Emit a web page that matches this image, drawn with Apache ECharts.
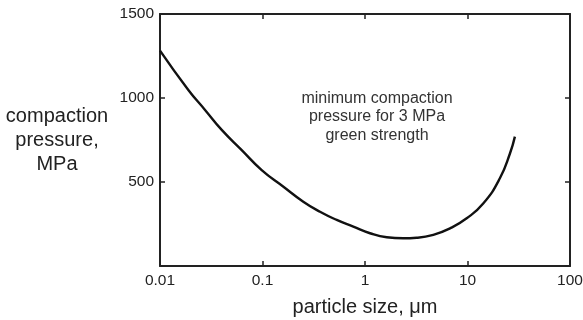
<!DOCTYPE html>
<html>
<head>
<meta charset="utf-8">
<script src="https://cdn.jsdelivr.net/npm/echarts@6/dist/echarts.min.js"></script>
<style>
  html, body { margin: 0; padding: 0; background: #fff; }
  #chart { width: 583px; height: 320px; }
</style>
</head>
<body>
<div id="chart"></div>
<script>
// 读图所得的曲线点
const particleSize = [0.01, 0.0189, 0.0275, 0.04, 0.0627, 0.0982, 0.16, 0.25, 0.364, 0.53, 0.769,
  1.12, 1.63, 2.36, 3.19, 4.64, 6.75, 9.82, 14.3, 20.7, 26, 29]
const pressure = [1282, 1048, 929, 810, 690, 571, 472, 383, 323, 274, 234,
  195, 171, 165, 168, 185, 224, 284, 373, 522, 671, 770]
const yTicks = [500, 1000, 1500]
const noteLines = ['minimum compaction', 'pressure for 3 MPa', 'green strength']

const FONT = '"Liberation Sans", Arial, sans-serif'
const INK = '#222'

const chart = echarts.init(document.getElementById('chart'))

const tickStyle = { show: true, inside: true, length: 5, lineStyle: { color: INK, width: 1.5 } }
const frameLine = { show: true, onZero: false, lineStyle: { color: INK, width: 2 } }

chart.setOption({
  animation: false,
  grid: { left: 160, right: 13, top: 14, bottom: 54, containLabel: false, outerBoundsMode: 'none' },
  xAxis: [
    {
      type: 'log',
      logBase: 10,
      min: 0.01,
      max: 100,
      name: 'particle size, \u03bcm',
      nameLocation: 'middle',
      nameGap: 31,
      nameTextStyle: { fontFamily: FONT, fontSize: 20, color: INK },
      axisLine: frameLine,
      axisTick: tickStyle,
      minorTick: { show: false },
      splitLine: { show: false },
      axisLabel: {
        margin: 7,
        fontFamily: FONT,
        fontSize: 15.5,
        color: INK,
        formatter: v => String(+v.toPrecision(3))
      }
    },
    {
      type: 'log',
      logBase: 10,
      min: 0.01,
      max: 100,
      position: 'top',
      axisLine: frameLine,
      axisTick: tickStyle,
      axisLabel: { show: false },
      splitLine: { show: false }
    }
  ],
  yAxis: [
    {
      type: 'value',
      min: 0,
      max: 1500,
      interval: 500,
      name: 'compaction\npressure,\nMPa',
      nameLocation: 'middle',
      nameRotate: 0,
      nameGap: 103,
      nameTextStyle: { fontFamily: FONT, fontSize: 20, color: INK, align: 'center', lineHeight: 24, padding: [0, 0, 4, 0] },
      axisLine: frameLine,
      axisTick: tickStyle,
      splitLine: { show: false },
      axisLabel: {
        margin: 6,
        fontFamily: FONT,
        fontSize: 15.5,
        color: INK,
        formatter: v => (yTicks.includes(v) ? String(v) : '')
      }
    },
    {
      type: 'value',
      min: 0,
      max: 1500,
      interval: 500,
      position: 'right',
      axisLine: frameLine,
      axisTick: tickStyle,
      axisLabel: { show: false },
      splitLine: { show: false }
    }
  ],
  series: [
    {
      type: 'line',
      data: particleSize.map((x, i) => [x, pressure[i]]),
      smooth: 0.5,
      symbol: 'none',
      lineStyle: { color: '#111', width: 2.4 }
    }
  ],
  graphic: [
    {
      type: 'text',
      x: 377,
      y: 89,
      style: {
        text: noteLines.join('\n'),
        textAlign: 'center',
        textVerticalAlign: 'top',
        fontFamily: FONT,
        fontSize: 16,
        lineHeight: 18.5,
        fill: '#333'
      }
    }
  ]
})
</script>
</body>
</html>
